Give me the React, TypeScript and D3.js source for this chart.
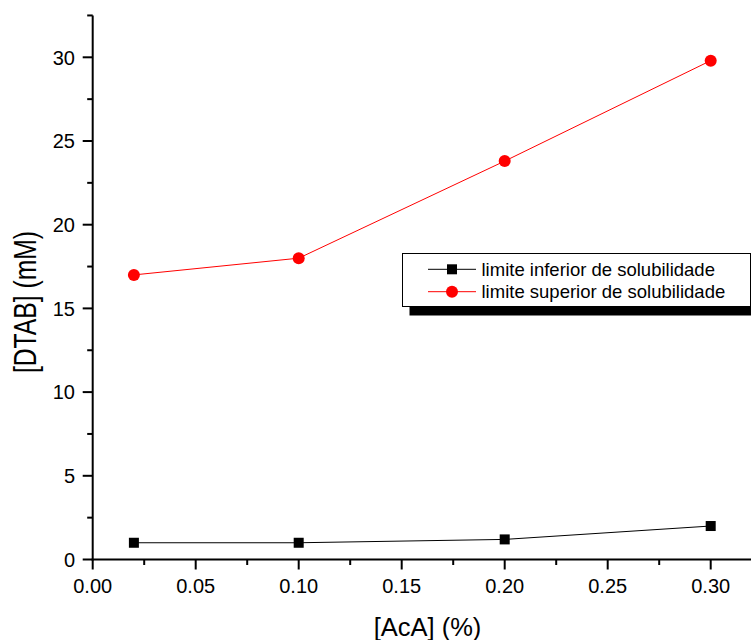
import React from "react";
import * as d3 from "d3";

const xValues = [0.02, 0.1, 0.2, 0.3];
const lowerValues = [1, 1, 1.2, 2];
const upperValues = [17, 18, 23.8, 29.8];
const xTicks = [0, 0.05, 0.1, 0.15, 0.2, 0.25, 0.3];
const xMinor = [0.025, 0.075, 0.125, 0.175, 0.225, 0.275, 0.325];
const yTicks = [0, 5, 10, 15, 20, 25, 30];
const yMinor = [2.5, 7.5, 12.5, 17.5, 22.5, 27.5, 32.5];
const seriesNames = ["limite inferior de solubilidade", "limite superior de solubilidade"];

const W = 751;
const H = 640;
const FONT = "'Liberation Sans', Arial, sans-serif";

export default function App() {
  const x = d3.scaleLinear().domain([0, 0.05]).range([92.7, 195.7]);
  const y = d3.scaleLinear().domain([0, 30]).range([559.5, 57.3]);
  const x0 = x(0);
  const y0 = y(0);
  const yTop = y(32.5);
  const xEnd = x(0.34);

  const line = d3
    .line<number>()
    .x((_, i) => x(xValues[i]))
    .y((d) => y(d));

  const fmt = d3.format(".2f");

  const lg = { x: 402.5, y: 253.5, w: 348, h: 53 };

  return (
    <svg
      width={W}
      height={H}
      style={{ position: "absolute", left: 0, top: 0, background: "#fff" }}
      fontFamily={FONT}
    >
      <rect x={0} y={0} width={W} height={H} fill="#fff" />
      {/* series */}
      <path d={line(lowerValues) || ""} fill="none" stroke="#000" strokeWidth={1} />
      <path d={line(upperValues) || ""} fill="none" stroke="#ff0000" strokeWidth={1} />
      {lowerValues.map((v, i) => (
        <rect key={"l" + i} x={x(xValues[i]) - 5} y={y(v) - 5} width={10} height={10} fill="#000" />
      ))}
      {upperValues.map((v, i) => (
        <circle key={"u" + i} cx={x(xValues[i])} cy={y(v)} r={6} fill="#ff0000" />
      ))}

      {/* axes */}
      <line x1={x0} y1={yTop} x2={x0} y2={y0 + 1} stroke="#000" strokeWidth={2} />
      <line x1={x0 - 1} y1={y0} x2={xEnd} y2={y0} stroke="#000" strokeWidth={2} />
      {yTicks.map((t) => (
        <g key={"yt" + t}>
          <line x1={x0 - 10} x2={x0} y1={y(t)} y2={y(t)} stroke="#000" strokeWidth={2} />
          <text x={75} y={y(t)} dy="0.36em" textAnchor="end" fontSize={20}>
            {t}
          </text>
        </g>
      ))}
      {yMinor.map((t) => (
        <line key={"ym" + t} x1={x0 - 5.5} x2={x0} y1={y(t)} y2={y(t)} stroke="#000" strokeWidth={2} />
      ))}
      {xTicks.map((t) => (
        <g key={"xt" + t}>
          <line x1={x(t)} x2={x(t)} y1={y0} y2={y0 + 10} stroke="#000" strokeWidth={2} />
          <text x={x(t)} y={593} textAnchor="middle" fontSize={20}>
            {fmt(t)}
          </text>
        </g>
      ))}
      {xMinor.map((t) => (
        <line key={"xm" + t} x1={x(t)} x2={x(t)} y1={y0} y2={y0 + 5.5} stroke="#000" strokeWidth={2} />
      ))}

      {/* titles */}
      <text x={427.5} y={636} textAnchor="middle" fontSize={25.5}>
        [AcA] (%)
      </text>
      <text
        transform={`translate(36,302) rotate(-90) scale(1,1.25)`}
        textAnchor="middle"
        fontSize={24.7}
      >
        [DTAB] (mM)
      </text>

      {/* legend */}
      <rect x={lg.x + 7} y={lg.y + lg.h} width={lg.w + 20} height={9} fill="#000" />
      <rect x={lg.x} y={lg.y} width={lg.w} height={lg.h} fill="#fff" stroke="#000" strokeWidth={1} />
      {seriesNames.map((name, i) => {
        const cy = 269.3 + i * 22.4;
        const color = i === 0 ? "#000" : "#ff0000";
        return (
          <g key={"lg" + i}>
            <line x1={428} x2={476} y1={cy} y2={cy} stroke={color} strokeWidth={1} />
            {i === 0 ? (
              <rect x={447} y={cy - 5} width={10} height={10} fill="#000" />
            ) : (
              <circle cx={452} cy={cy} r={6} fill="#ff0000" />
            )}
            <text x={481.5} y={cy} dy="0.36em" fontSize={18.5}>
              {name}
            </text>
          </g>
        );
      })}
    </svg>
  );
}
